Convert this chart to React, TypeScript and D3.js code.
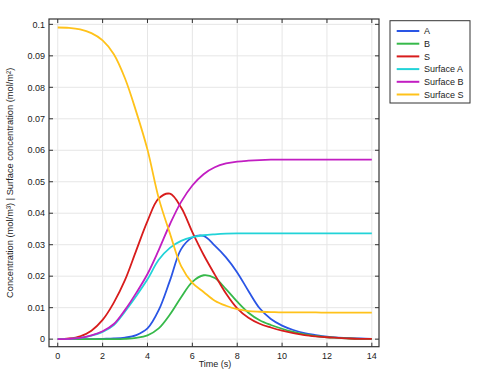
import React from "react";
import * as d3 from "d3";

const time = [0, 0.5, 1, 1.5, 2, 2.5, 3, 3.5, 4, 4.5, 5, 5.5, 6, 6.5, 7, 7.5, 8, 8.5, 9, 9.5, 10, 10.5, 11, 11.5, 12, 12.5, 13, 13.5, 14];

const seriesA = [0, 0, 0, 0, 0.0001, 0.0002, 0.0005, 0.0013, 0.0034, 0.0092, 0.0186, 0.0286, 0.0323, 0.0328, 0.0297, 0.026, 0.0212, 0.0153, 0.0098, 0.0064, 0.0043, 0.0029, 0.0019, 0.0013, 0.0008, 0.0005, 0.0003, 0.0002, 0.0001];
const seriesB = [0, 0, 0, 0, 0, 0, 0.0001, 0.0004, 0.0012, 0.0034, 0.0078, 0.0133, 0.0182, 0.0203, 0.0194, 0.0159, 0.0119, 0.0084, 0.006, 0.0045, 0.0033, 0.0023, 0.0015, 0.001, 0.0006, 0.0004, 0.0002, 0.0001, 0.0001];
const seriesS = [0, 0.0002, 0.0009, 0.0027, 0.0061, 0.0116, 0.0188, 0.0282, 0.0375, 0.0447, 0.0462, 0.0418, 0.034, 0.0268, 0.0205, 0.0145, 0.0098, 0.0068, 0.0049, 0.0037, 0.0027, 0.0019, 0.0013, 0.0009, 0.0006, 0.0004, 0.0002, 0.0001, 0.0001];
const surfaceA = [0, 0.0001, 0.0004, 0.0011, 0.0023, 0.0045, 0.0088, 0.0137, 0.019, 0.0252, 0.029, 0.0312, 0.0324, 0.033, 0.0333, 0.0335, 0.0336, 0.0336, 0.0336, 0.0336, 0.0336, 0.0336, 0.0336, 0.0336, 0.0336, 0.0336, 0.0336, 0.0336, 0.0336];
const surfaceB = [0, 0.0001, 0.0004, 0.0012, 0.0025, 0.0048, 0.0093, 0.0147, 0.0207, 0.0283, 0.0365, 0.0436, 0.0488, 0.0524, 0.0546, 0.0558, 0.0564, 0.0567, 0.0569, 0.057, 0.057, 0.057, 0.057, 0.057, 0.057, 0.057, 0.057, 0.057, 0.057];
const surfaceS = [0.099, 0.0989, 0.0984, 0.0972, 0.0949, 0.0905, 0.0828, 0.0722, 0.0602, 0.0448, 0.0336, 0.0232, 0.0179, 0.015, 0.0122, 0.0106, 0.0095, 0.0089, 0.0087, 0.0086, 0.0085, 0.0085, 0.0085, 0.0085, 0.0084, 0.0084, 0.0084, 0.0084, 0.0084];

const seriesNames = ["A", "B", "S", "Surface A", "Surface B", "Surface S"];
const seriesColors = ["#2a55e5", "#36b94a", "#d81c1c", "#22d3d8", "#c21ec2", "#ffc21a"];
const seriesValues = [seriesA, seriesB, seriesS, surfaceA, surfaceB, surfaceS];

const xTicks = [0, 2, 4, 6, 8, 10, 12, 14];
const yTicks = [0, 0.01, 0.02, 0.03, 0.04, 0.05, 0.06, 0.07, 0.08, 0.09, 0.1];

const W = 483;
const H = 372;
const left = 49;
const right = 379;
const top = 19;
const bottom = 346.7;
const font = "'Liberation Sans', Arial, sans-serif";

export default function App() {
  const x = d3.scaleLinear().domain([-0.39, 14.32]).range([left, right]);
  const y = d3.scaleLinear().domain([-0.0024, 0.1017]).range([bottom, top]);
  const line = d3
    .line<[number, number]>()
    .x((d) => x(d[0]))
    .y((d) => y(d[1]))
    .curve(d3.curveCatmullRom.alpha(0.5));

  const tickLen = 4;
  const legX = 390;
  const legY = 20.7;
  const legW = 80;
  const legH = 82.3;
  const legStep = 12.7;

  return (
    <svg width={W} height={H} style={{ position: "absolute", left: 0, top: 0, background: "#fff" }} fontFamily={font}>
      <rect x={0} y={0} width={W} height={H} fill="#fff" />
      {xTicks.map((t) => (
        <line key={"gx" + t} x1={x(t)} x2={x(t)} y1={top} y2={bottom} stroke="#e6e6e6" strokeWidth={1} />
      ))}
      {yTicks.map((t) => (
        <line key={"gy" + t} x1={left} x2={right} y1={y(t)} y2={y(t)} stroke="#e6e6e6" strokeWidth={1} />
      ))}
      <defs>
        <clipPath id="clip">
          <rect x={left} y={top} width={right - left} height={bottom - top} />
        </clipPath>
      </defs>
      <g clipPath="url(#clip)">
        {seriesValues.map((vals, i) => (
          <path
            key={seriesNames[i]}
            d={line(time.map((t, j) => [t, vals[j]] as [number, number])) || ""}
            fill="none"
            stroke={seriesColors[i]}
            strokeWidth={1.8}
          />
        ))}
      </g>
      <rect x={left} y={top} width={right - left} height={bottom - top} fill="none" stroke="#333" strokeWidth={1.2} />
      {xTicks.map((t) => (
        <g key={"tx" + t}>
          <line x1={x(t)} x2={x(t)} y1={bottom} y2={bottom - tickLen} stroke="#333" />
          <line x1={x(t)} x2={x(t)} y1={top} y2={top + tickLen} stroke="#333" />
          <text x={x(t)} y={359} fontSize={9} textAnchor="middle" fill="#222">
            {t}
          </text>
        </g>
      ))}
      {yTicks.map((t) => (
        <g key={"ty" + t}>
          <line x1={left} x2={left + tickLen} y1={y(t)} y2={y(t)} stroke="#333" />
          <line x1={right} x2={right - tickLen} y1={y(t)} y2={y(t)} stroke="#333" />
          <text x={45} y={y(t) + 3.2} fontSize={9} textAnchor="end" fill="#222">
            {d3.format("~g")(t)}
          </text>
        </g>
      ))}
      <text x={215} y={367} fontSize={9} textAnchor="middle" fill="#222">
        Time (s)
      </text>
      <text
        transform={`translate(13,${(top + bottom) / 2}) rotate(-90)`}
        fontSize={9.3}
        textAnchor="middle"
        fill="#222"
      >
        Concentration (mol/m³) | Surface concentration (mol/m²)
      </text>
      <rect x={legX} y={legY} width={legW} height={legH} fill="#fff" stroke="#333" strokeWidth={1} />
      {seriesNames.map((name, i) => (
        <g key={"leg" + name}>
          <line
            x1={396.7}
            x2={419.3}
            y1={31 + i * legStep}
            y2={31 + i * legStep}
            stroke={seriesColors[i]}
            strokeWidth={2}
          />
          <text x={424} y={31 + i * legStep + 3.2} fontSize={9} fill="#222">
            {name}
          </text>
        </g>
      ))}
    </svg>
  );
}
